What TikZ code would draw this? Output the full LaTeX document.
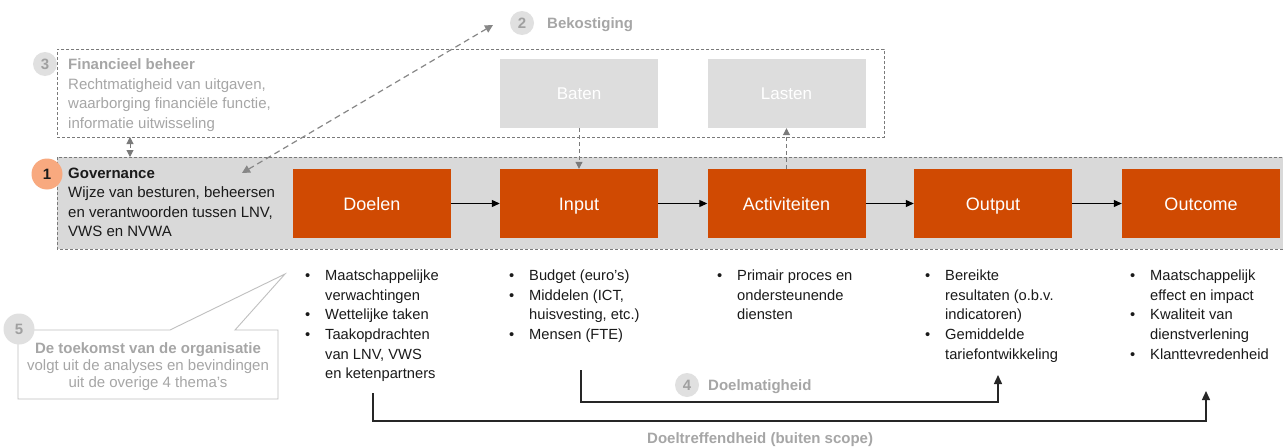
\documentclass[tikz,border=0pt]{standalone}
\usepackage{fontspec}
\setmainfont{Liberation Sans}
\usetikzlibrary{arrows.meta}
\definecolor{pwcorange}{HTML}{D04A02}
\definecolor{bandgray}{HTML}{D9D9D9}
\definecolor{lightbox}{HTML}{DDDDDD}
\definecolor{numcircle}{HTML}{E0E0E0}
\definecolor{numtext}{HTML}{A0A0A0}
\definecolor{graytext}{HTML}{A6A6A6}
\definecolor{dashgray}{HTML}{7A7A7A}
\definecolor{orangecircle}{HTML}{F8A97F}
\definecolor{calloutgray}{HTML}{BFBFBF}
\definecolor{darktext}{HTML}{1A1A1A}
\begin{document}
\begin{tikzpicture}[x=1pt,y=-1pt,
  flowbox/.style={fill=pwcorange, draw=none, minimum width=158pt, minimum height=69pt, inner sep=0pt, text height=13pt, text depth=0pt, text=white, font=\fontsize{18}{20}\selectfont},
  finbox/.style={fill=lightbox, draw=none, minimum width=158pt, minimum height=69pt, inner sep=0pt, text height=12.2pt, text depth=0pt, text=white, font=\fontsize{17}{20}\selectfont},
  numgray/.style={circle, fill=numcircle, draw=none, minimum size=24pt, inner sep=0pt, text=numtext, font=\fontsize{15}{17}\selectfont\bfseries},
  numbig/.style={circle, draw=none, minimum size=31pt, inner sep=0pt, font=\fontsize{15}{17}\selectfont\bfseries},
  dashbox/.style={draw=dashgray, line width=0.9pt, dash pattern=on 3pt off 2pt},
  graydash/.style={draw=dashgray, line width=1pt, dash pattern=on 4pt off 3pt},
  graytip/.style={-{Triangle[length=7pt,width=7pt]}},
  flowarrow/.style={draw=black, line width=1.1pt, -{Triangle[length=8pt,width=7pt]}},
  bracket/.style={draw=black!85, line width=1.4pt, -{Triangle[length=9pt,width=8pt]}},
  txt/.style={inner sep=0pt, align=left, font=\fontsize{15}{19.6}\selectfont},
  listtxt/.style={inner sep=0pt, align=left, anchor=north west, text=darktext, font=\fontsize{14.7}{19.7}\selectfont},
  graylabel/.style={inner sep=0pt, text=graytext, font=\fontsize{15}{17}\selectfont\bfseries}
]
\useasboundingbox (0,0) rectangle (1283,447);
\fill[white] (0,0) rectangle (1283,447);

% Financieel beheer box
\node[dashbox, minimum width=827pt, minimum height=88pt, inner sep=0pt, anchor=north west] (finbeheer) at (57,49) {};
\node[numgray] (n3) at (45,64) {3};
\node[txt, anchor=north west, text=graytext] (fintext) at (68,58.5) {\textbf{Financieel beheer}\\Rechtmatigheid van uitgaven,\\waarborging financiële functie,\\informatie uitwisseling};
\node[finbox] (baten) at (579,93.5) {Baten};
\node[finbox] (lasten) at (786.5,93.5) {Lasten};

% Governance band
\path[fill=bandgray] (57,157) rectangle (1290,249);
\draw[dashbox] (57,157) rectangle (1290,249);
\node[inner sep=0pt, minimum width=1233pt, minimum height=92pt, anchor=north west] (band) at (57,157) {};
\node[numbig, fill=orangecircle, text=darktext] (n1) at (47,174) {1};
\node[txt, anchor=north west, text=darktext] (govtext) at (68,167.5) {\textbf{Governance}\\Wijze van besturen, beheersen\\en verantwoorden tussen LNV,\\VWS en NVWA};

\node[flowbox] (doelen) at (372,203.5) {Doelen};
\node[flowbox] (input) at (579,203.5) {Input};
\node[flowbox] (activ) at (786.5,203.5) {Activiteiten};
\node[flowbox] (output) at (993,203.5) {Output};
\node[flowbox] (outcome) at (1201,203.5) {Outcome};

\draw[flowarrow] (doelen) -- (input);
\draw[flowarrow] (input) -- (activ);
\draw[flowarrow] (activ) -- (output);
\draw[flowarrow] (output) -- (outcome);

% dashed connectors
\draw[graydash, graytip] (baten) -- (input);
\draw[graydash, graytip] (activ) -- (lasten);
\coordinate (fgtop) at (130,137);
\coordinate (fgbot) at (130,157);
\draw[graydash, {Triangle[length=7pt,width=7pt]}-{Triangle[length=7pt,width=7pt]}] (fgtop) -- (fgbot);
\coordinate (govarrow) at (242,173);
\coordinate (bekarrow) at (493,25);
\draw[draw=dashgray!90, line width=1.2pt, dash pattern=on 6pt off 4pt, {Triangle[length=8pt,width=8pt]}-{Triangle[length=8pt,width=8pt]}] (govarrow) -- (bekarrow);

% Bekostiging
\node[numgray] (n2) at (522,23) {2};
\node[graylabel, anchor=base west] (bekost) at (547,28.4) {Bekostiging};

% Lists
\newcommand{\bul}{\llap{•\hspace{15pt}}}
\node[listtxt] (ldoelen) at (325,269.5) {\bul Maatschappelijke\\verwachtingen\\\bul Wettelijke taken\\\bul Taakopdrachten\\van LNV, VWS\\en ketenpartners};
\node[listtxt] (linput) at (529,269.5) {\bul Budget (euro’s)\\\bul Middelen (ICT,\\huisvesting, etc.)\\\bul Mensen (FTE)};
\node[listtxt] (lactiv) at (737,269.5) {\bul Primair proces en\\ondersteunende\\diensten};
\node[listtxt] (loutput) at (945,269.5) {\bul Bereikte\\resultaten (o.b.v.\\indicatoren)\\\bul Gemiddelde\\tariefontwikkeling};
\node[listtxt] (loutcome) at (1150,269.5) {\bul Maatschappelijk\\effect en impact\\\bul Kwaliteit van\\dienstverlening\\\bul Klanttevredenheid};

% Callout 5
\draw[draw=calloutgray, fill=white, line width=0.9pt] (18,330) -- (170,330) -- (285,274) -- (235,330) -- (278,330) -- (278,399) -- (18,399) -- cycle;
\node[numbig, fill=numcircle, text=numtext] (n5) at (19,329) {5};
\node[inner sep=0pt, anchor=north, align=center, text=graytext, font=\fontsize{15}{17}\selectfont] (callouttext) at (148,342.5) {\textbf{De toekomst van de organisatie}\\volgt uit de analyses en bevindingen\\uit de overige 4 thema’s};

% Brackets
\coordinate (effS) at (373,393);
\coordinate (effE) at (1206,391);
\draw[bracket] (effS) -- ++(0,28) -| (effE);
\coordinate (doelS) at (581,370);
\coordinate (doelE) at (998,375);
\draw[bracket] (doelS) -- ++(0,32) -| (doelE);

\node[numgray] (n4) at (687,385) {4};
\node[graylabel, anchor=base west] (doelmat) at (708,390.4) {Doelmatigheid};
\node[graylabel, anchor=base west] (doeltref) at (647,443.4) {Doeltreffendheid (buiten scope)};
\end{tikzpicture}
\end{document}
